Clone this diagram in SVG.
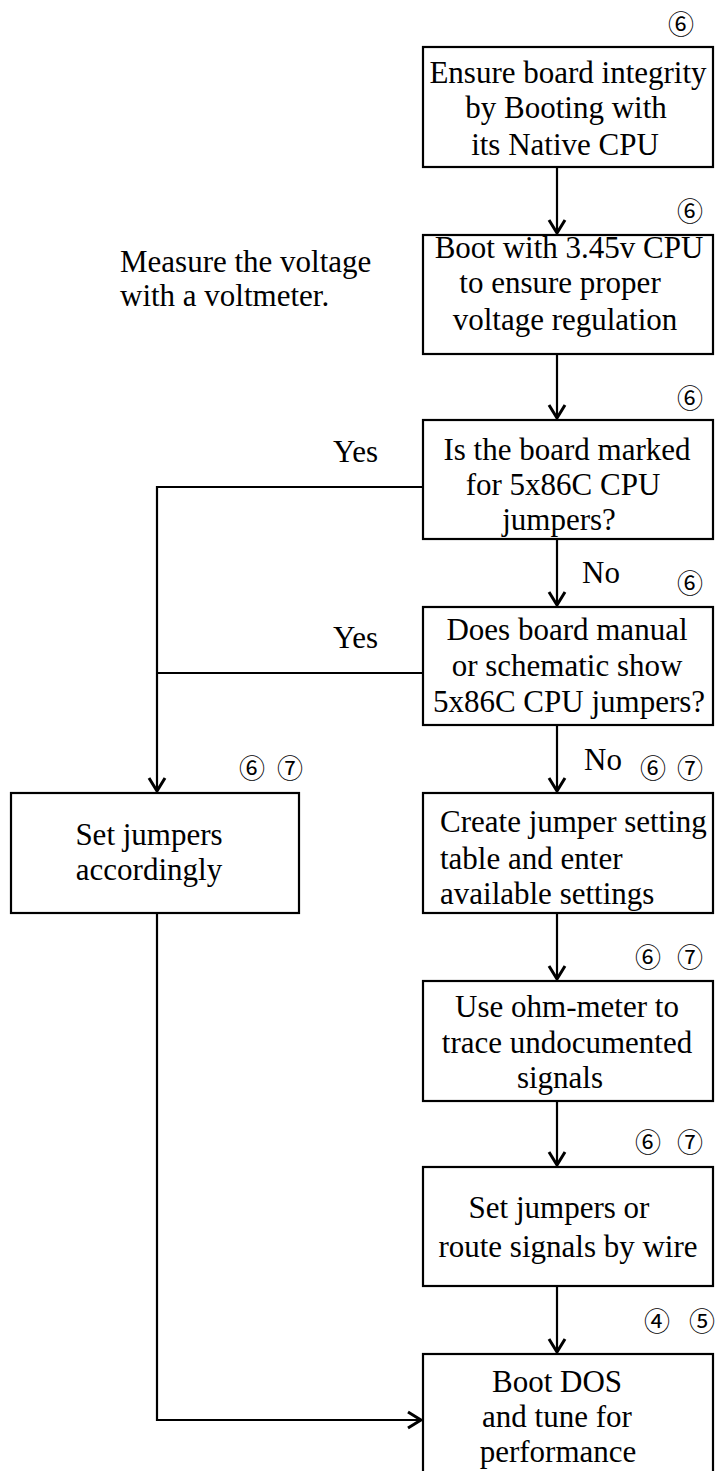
<svg xmlns="http://www.w3.org/2000/svg" width="715" height="1471" viewBox="0 0 715 1471">
<style>
.box{fill:#fff;stroke:#000;stroke-width:2.2}
.t{font-family:"Liberation Serif","Times New Roman",serif;font-size:31px;fill:#000}
.c{text-anchor:middle}
.n{font-family:"Noto Sans CJK JP","DejaVu Sans",sans-serif;font-size:26px;fill:#000;text-anchor:middle}
.ln{fill:none;stroke:#000;stroke-width:2.2}
</style>
<defs>
<marker id="arr" viewBox="-16 -10 18 20" refX="0" refY="0" markerWidth="18" markerHeight="20" markerUnits="userSpaceOnUse" orient="auto">
<path d="M-13,-8 L0,0 L-13,8" fill="none" stroke="#000" stroke-width="3"/>
</marker>
</defs>
<rect width="715" height="1471" fill="#fff"/>
<g id="connectors">
<path class="ln" d="M557,167 V233" marker-end="url(#arr)"/>
<path class="ln" d="M557,354 V418" marker-end="url(#arr)"/>
<path class="ln" d="M557,539 V605" marker-end="url(#arr)"/>
<path class="ln" d="M557,725 V791" marker-end="url(#arr)"/>
<path class="ln" d="M557,913 V979" marker-end="url(#arr)"/>
<path class="ln" d="M557,1101 V1165" marker-end="url(#arr)"/>
<path class="ln" d="M557,1286 V1352" marker-end="url(#arr)"/>
<path class="ln" d="M423,487 H157 V791" marker-end="url(#arr)"/>
<path class="ln" d="M423,673 H157"/>
<path class="ln" d="M157,913 V1420 H421" marker-end="url(#arr)"/>
</g>
<g id="labels">
<text class="t" x="120" y="272">Measure the voltage</text>
<text class="t" x="120" y="306">with a voltmeter.</text>
<text class="t" x="333" y="462">Yes</text>
<text class="t" x="333" y="648">Yes</text>
<text class="t" x="582" y="583">No</text>
<text class="t" x="584" y="770">No</text>
<text class="n" x="681" y="34">⑥</text>
<text class="n" x="690" y="221">⑥</text>
<text class="n" x="690" y="408">⑥</text>
<text class="n" x="690" y="593">⑥</text>
<text class="n" x="252" y="778">⑥</text>
<text class="n" x="290" y="778">⑦</text>
<text class="n" x="653" y="778">⑥</text>
<text class="n" x="690" y="778">⑦</text>
<text class="n" x="648" y="967">⑥</text>
<text class="n" x="690" y="967">⑦</text>
<text class="n" x="648" y="1152">⑥</text>
<text class="n" x="690" y="1152">⑦</text>
<text class="n" x="657" y="1331">④</text>
<text class="n" x="702" y="1331">⑤</text>
</g>
<g id="n1">
<rect class="box" x="423" y="47" width="290" height="120"/>
<text class="t c" x="568" y="83">Ensure board integrity</text>
<text class="t c" x="566" y="118">by Booting with</text>
<text class="t c" x="565" y="155">its Native CPU</text>
</g>
<g id="n2">
<rect class="box" x="423" y="235" width="290" height="119"/>
<text class="t c" x="569" y="258">Boot with 3.45v CPU</text>
<text class="t c" x="560" y="293">to ensure proper</text>
<text class="t c" x="565" y="330">voltage regulation</text>
</g>
<g id="n3">
<rect class="box" x="423" y="420" width="290" height="119"/>
<text class="t c" x="567" y="460">Is the board marked</text>
<text class="t c" x="563" y="495">for 5x86C CPU</text>
<text class="t c" x="559" y="530">jumpers?</text>
</g>
<g id="n4">
<rect class="box" x="423" y="607" width="290" height="118"/>
<text class="t c" x="567" y="640">Does board manual</text>
<text class="t c" x="567" y="676">or schematic show</text>
<text class="t c" x="569" y="712">5x86C CPU jumpers?</text>
</g>
<g id="n5">
<rect class="box" x="11" y="793" width="288" height="120"/>
<text class="t c" x="149" y="845">Set jumpers</text>
<text class="t c" x="149" y="880">accordingly</text>
</g>
<g id="n6">
<rect class="box" x="423" y="793" width="290" height="120"/>
<text class="t" x="440" y="832">Create jumper setting</text>
<text class="t" x="440" y="869">table and enter</text>
<text class="t" x="440" y="904">available settings</text>
</g>
<g id="n7">
<rect class="box" x="423" y="981" width="290" height="120"/>
<text class="t c" x="567" y="1017">Use ohm-meter to</text>
<text class="t c" x="567" y="1053">trace undocumented</text>
<text class="t c" x="560" y="1088">signals</text>
</g>
<g id="n8">
<rect class="box" x="423" y="1167" width="290" height="119"/>
<text class="t c" x="559" y="1218">Set jumpers or</text>
<text class="t c" x="568" y="1257">route signals by wire</text>
</g>
<g id="n9">
<rect class="box" x="423" y="1354" width="290" height="125"/>
<text class="t c" x="557" y="1392">Boot DOS</text>
<text class="t c" x="557" y="1427">and tune for</text>
<text class="t c" x="558" y="1462">performance</text>
</g>
</svg>
